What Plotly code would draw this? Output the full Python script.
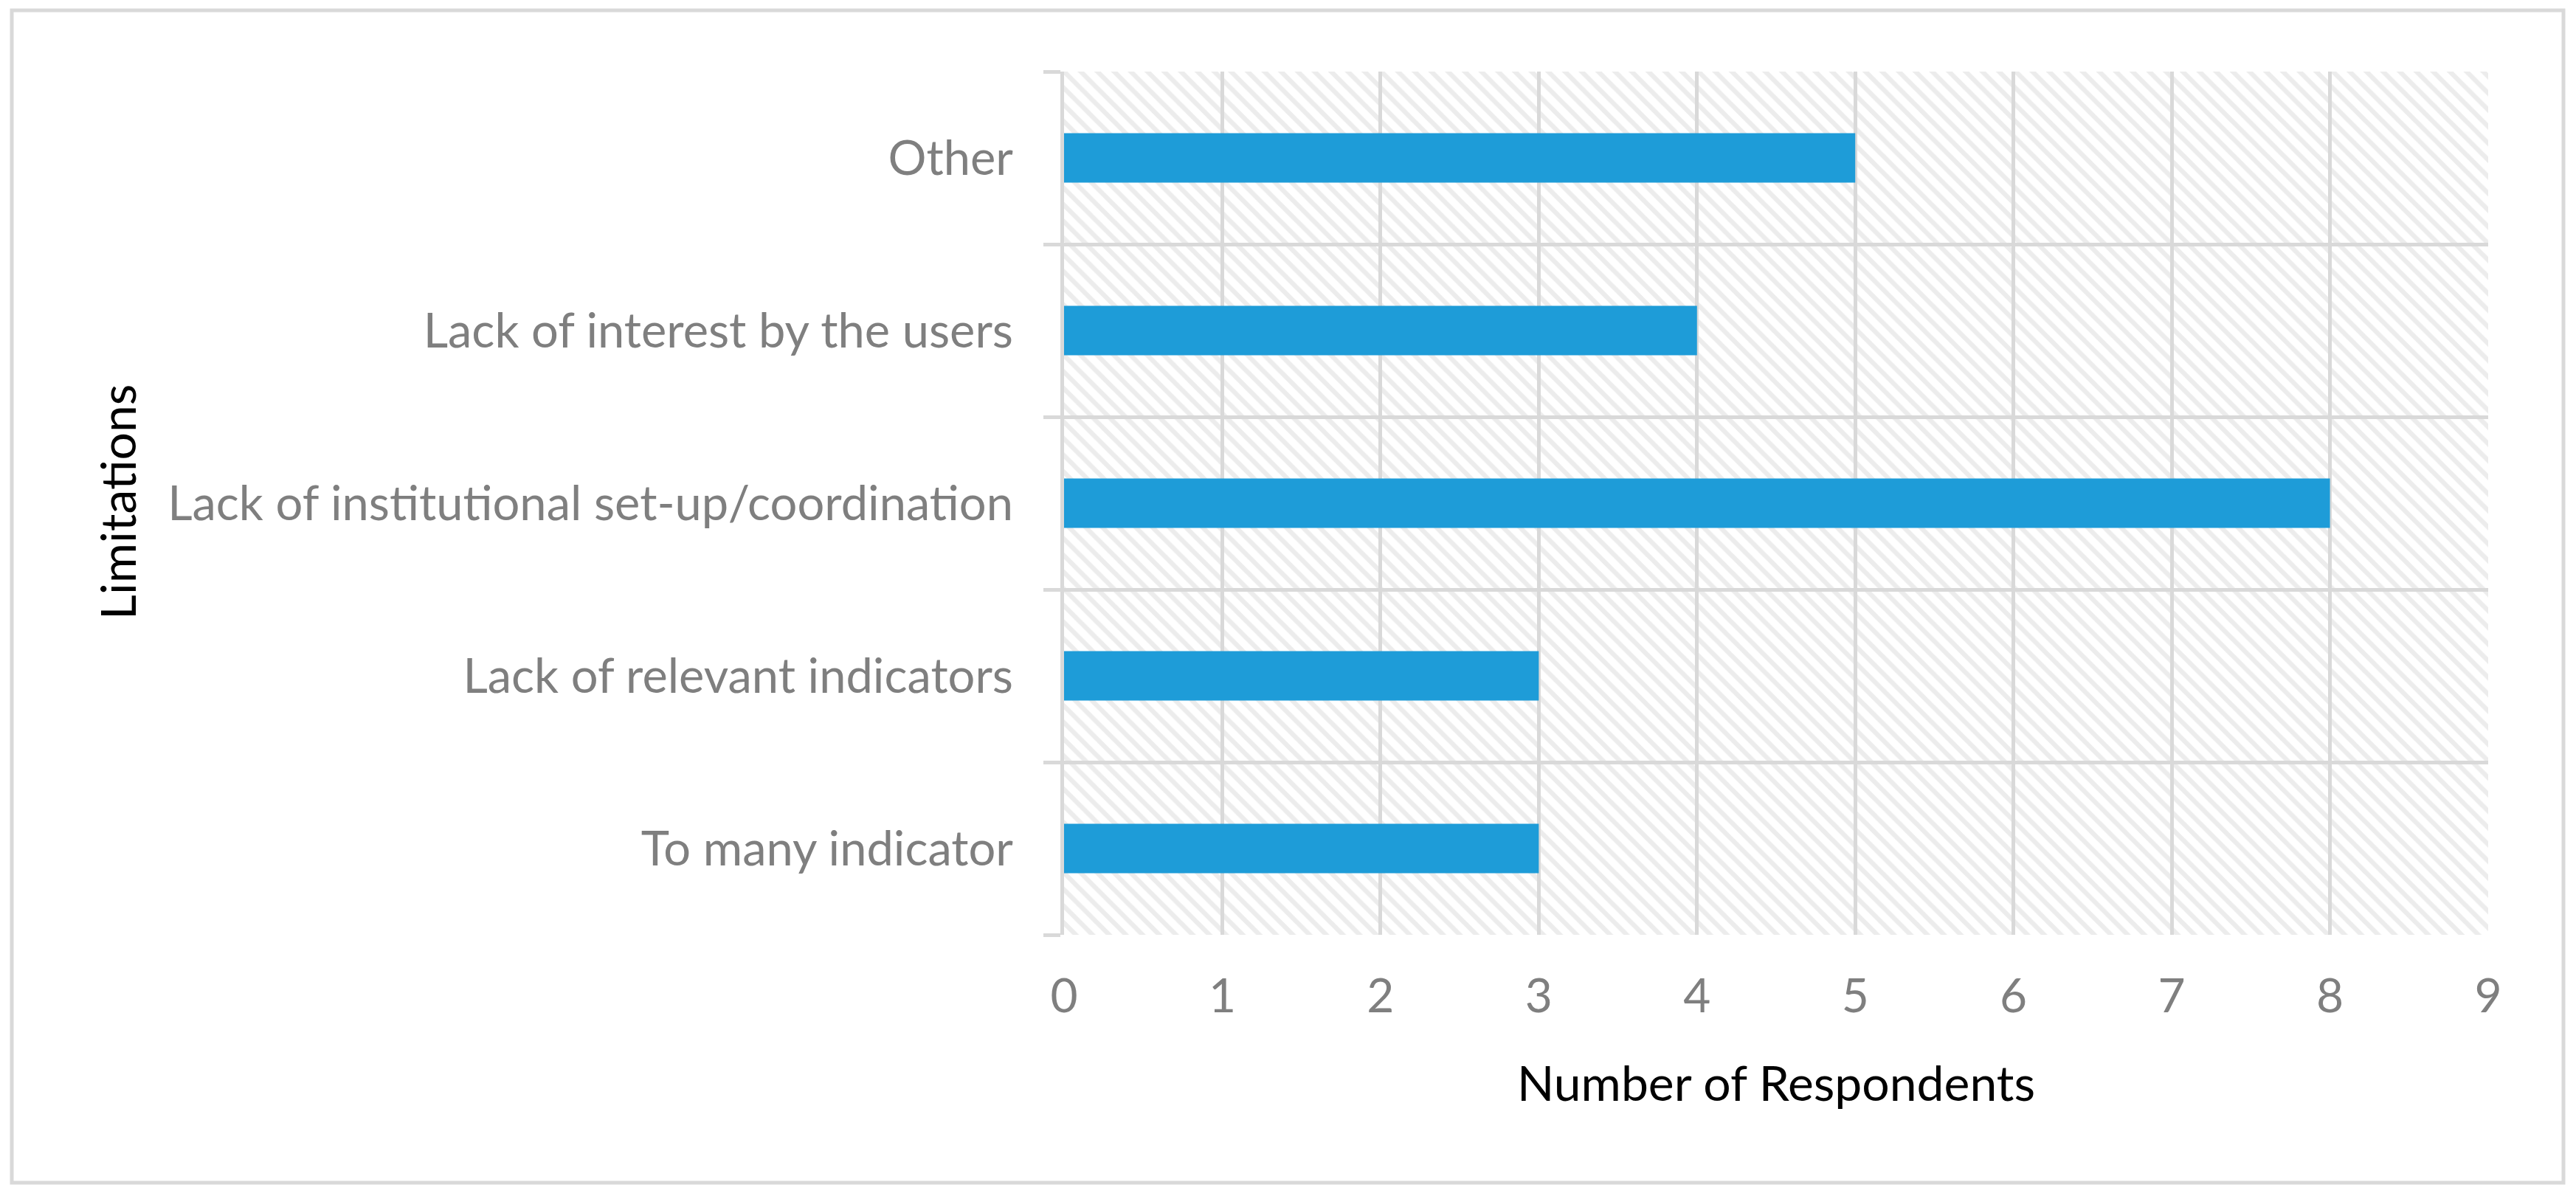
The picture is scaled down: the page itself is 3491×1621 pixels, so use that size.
import plotly.graph_objects as go

categories = [
    "To many indicator",
    "Lack of relevant indicators",
    "Lack of institutional set-up/coordination",
    "Lack of interest by the users",
    "Other",
]
respondents = [3, 3, 8, 4, 5]
x_ticks = [0, 1, 2, 3, 4, 5, 6, 7, 8, 9]
x_title = "Number of Respondents"
y_title = "Limitations"

W, H = 3491, 1621
L, R, T, B = 1442, 119, 97, 354
PW = W - L - R
PH = H - T - B

GRID = "#d9d9d9"
TEXT_GRAY = "#7f7f7f"
BAR_BLUE = "#1e9cd8"
FONT = "Lato"


def px_x(px):
    return (px - L) / PW


def px_y(py):
    return (H - B - py) / PH


fig = go.Figure()

# hatched plot-area background
fig.add_trace(go.Bar(
    y=categories,
    x=[x_ticks[-1]] * len(categories),
    orientation="h",
    width=1,
    marker=dict(
        color="rgba(0,0,0,0)",
        line=dict(width=0),
        pattern=dict(shape="\\", fgcolor="#d9d9d9", bgcolor="rgba(0,0,0,0)",
                     size=16, solidity=0.4),
    ),
    hoverinfo="skip",
    showlegend=False,
))

fig.add_trace(go.Bar(
    y=categories,
    x=respondents,
    orientation="h",
    width=0.286,
    marker=dict(color=BAR_BLUE, line=dict(width=0)),
    showlegend=False,
))

fig.update_layout(
    width=W,
    height=H,
    margin=dict(l=L, r=R, t=T, b=B),
    paper_bgcolor="white",
    plot_bgcolor="white",
    barmode="overlay",
    font=dict(family=FONT, size=64, color=TEXT_GRAY),
    xaxis=dict(
        range=[x_ticks[0], x_ticks[-1]],
        tickmode="array",
        tickvals=x_ticks,
        ticktext=[str(v) for v in x_ticks],
        showgrid=True,
        gridcolor=GRID,
        gridwidth=5,
        zeroline=False,
        showline=False,
        ticks="",
        ticklabelstandoff=40,
        tickfont=dict(family=FONT, size=64, color=TEXT_GRAY),
    ),
    yaxis=dict(
        type="category",
        categoryorder="array",
        categoryarray=categories,
        range=[-0.5, len(categories) - 0.5],
        tickson="boundaries",
        showgrid=True,
        gridcolor=GRID,
        gridwidth=5,
        ticks="outside",
        ticklen=23,
        tickwidth=5,
        tickcolor=GRID,
        showline=True,
        linecolor=GRID,
        linewidth=5,
        zeroline=False,
        ticklabelstandoff=51,
        tickfont=dict(family=FONT, size=65, color=TEXT_GRAY),
    ),
    shapes=[
        dict(type="rect", xref="paper", yref="paper",
             x0=px_x(16), x1=px_x(3474), y0=px_y(14), y1=px_y(1603),
             line=dict(color=GRID, width=5), fillcolor="rgba(0,0,0,0)",
             layer="below"),
    ],
    annotations=[
        dict(text=x_title, xref="paper", yref="paper",
             x=0.5, y=px_y(1466), xanchor="center", yanchor="middle",
             showarrow=False, font=dict(family=FONT, size=66, color="black")),
        dict(text=y_title, xref="paper", yref="paper",
             x=px_x(158), y=px_y(681), xanchor="center", yanchor="middle",
             textangle=-90, showarrow=False,
             font=dict(family=FONT, size=66, color="black")),
    ],
)

fig.write_html(
    "out.html",
    config={"displayModeBar": False},
    post_script="document.body.style.margin='0';document.body.style.overflow='hidden';",
)
